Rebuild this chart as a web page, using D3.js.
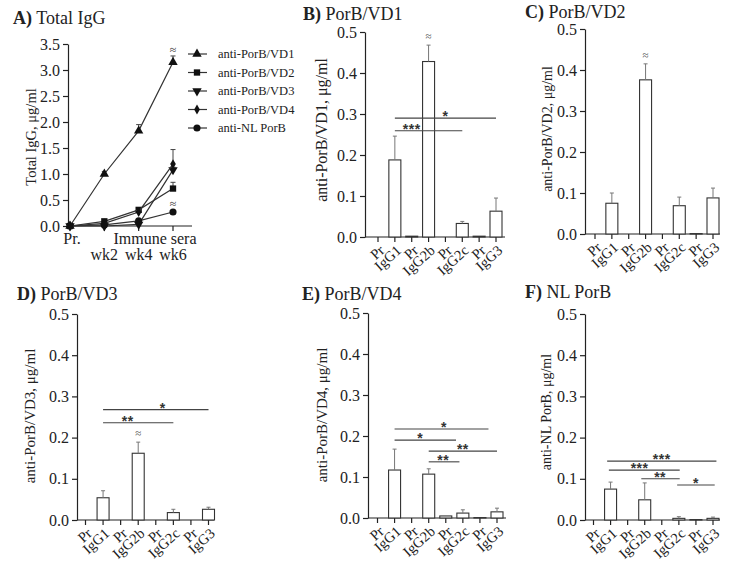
<!DOCTYPE html>
<html><head><meta charset="utf-8">
<script src="https://cdn.jsdelivr.net/npm/d3@7"></script>
<style>
body{margin:0;background:#fff;}
svg{display:block;font-family:"Liberation Serif","Times New Roman",serif;}
</style></head>
<body>
<svg id="chart" width="729" height="570"></svg>
<script>
// ---------- DATA ----------
const aTimes = ["Pr.", "wk2", "wk4", "wk6"];
const aSeriesNames = ["anti-PorB/VD1", "anti-PorB/VD2", "anti-PorB/VD3", "anti-PorB/VD4", "anti-NL PorB"];
const aVD1 = [0, 1.0, 1.83, 3.15];
const aVD1Err = [0, 0.05, 0.12, 0.12];
const aVD2 = [0, 0.09, 0.31, 0.72];
const aVD2Err = [0, 0.02, 0.03, 0.12];
const aVD3 = [0, 0.0, 0.03, 1.08];
const aVD3Err = [0, 0.0, 0.02, 0.05];
const aVD4 = [0, 0.05, 0.27, 1.19];
const aVD4Err = [0, 0.01, 0.03, 0.28];
const aNL = [0, 0.02, 0.10, 0.27];
const aNLErr = [0, 0.01, 0.02, 0.03];
const aYTicks = [0, 0.5, 1.0, 1.5, 2.0, 2.5, 3.0, 3.5];

const barCats = ["Pr", "IgG1", "Pr", "IgG2b", "Pr", "IgG2c", "Pr", "IgG3"];
const barYTicks = [0, 0.1, 0.2, 0.3, 0.4, 0.5];

// significance: [from index, to index, level, label, label index]
const bVals = [0, 0.188, 0.002, 0.428, 0, 0.033, 0.002, 0.063];
const bErr  = [0, 0.058, 0, 0.040, 0, 0.005, 0, 0.032];
const bApprox = [3];
const bSig = [[1, 5, 0.259, "***", 2.0], [1, 7, 0.290, "*", 4.0]];

const cVals = [0, 0.075, 0, 0.376, 0, 0.069, 0.001, 0.088];
const cErr  = [0, 0.025, 0, 0.039, 0, 0.021, 0, 0.024];
const cApprox = [3];
const cSig = [];

const dVals = [0, 0.054, 0, 0.162, 0, 0.018, 0, 0.026];
const dErr  = [0, 0.017, 0, 0.027, 0, 0.008, 0, 0.005];
const dApprox = [3];
const dSig = [[1, 5, 0.236, "**", 2.4], [1, 7, 0.268, "*", 4.4]];

const eVals = [0, 0.117, 0, 0.107, 0.005, 0.012, 0.001, 0.015];
const eErr  = [0, 0.051, 0, 0.013, 0, 0.008, 0, 0.009];
const eApprox = [];
const eSig = [[1, 6.5, 0.217, "*", 3.9], [1, 4.6, 0.190, "*", 2.5], [3, 7, 0.163, "**", 5.0], [3, 4.8, 0.137, "**", 3.85]];

const fVals = [0, 0.075, 0, 0.049, 0, 0.004, 0.001, 0.004];
const fErr  = [0, 0.017, 0, 0.041, 0, 0.004, 0, 0.003];
const fApprox = [];
const fSig = [[0.8, 7.2, 0.143, "***", 4.0], [0.9, 5.05, 0.121, "***", 2.7], [2.8, 5.05, 0.100, "**", 3.9], [4.9, 7.1, 0.085, "*", 6.0]];

// ---------- DRAW ----------
const svg = d3.select("#chart");
const INK = "#222";

function title(x, y, letter, rest) {
  const t = svg.append("text").attr("x", x).attr("y", y).attr("font-size", 18).attr("fill", INK);
  t.append("tspan").attr("font-weight", "bold").text(letter + ")");
  t.append("tspan").text(" " + rest);
}
function yLabel(cx, cy, txt, size) {
  svg.append("text").attr("transform", `translate(${cx},${cy}) rotate(-90)`)
    .attr("text-anchor", "middle").attr("dominant-baseline", "central")
    .attr("font-size", size).attr("fill", INK).text(txt);
}
function styleAxis(g) {
  g.selectAll("path,line").attr("stroke", INK).attr("stroke-width", 1.2);
  g.selectAll("text").attr("font-family", "Liberation Serif, serif").attr("font-size", 16).attr("fill", INK);
}

// ----- Panel A -----
(function () {
  const ax = 68, y0 = 226, yTop = 44, xEnd = 192;
  const y = d3.scaleLinear().domain([0, 3.5]).range([y0, yTop]);
  const x = d3.scalePoint().domain(aTimes).range([70, 173]);
  title(13, 24, "A", "Total IgG");
  yLabel(31, 137, "Total IgG, μg/ml", 14.5);
  const gy = svg.append("g").attr("transform", `translate(${ax},0)`)
    .call(d3.axisLeft(y).tickValues(aYTicks).tickFormat(d3.format(".1f")).tickSize(5).tickSizeOuter(0));
  styleAxis(gy);
  svg.append("line").attr("x1", ax).attr("x2", xEnd).attr("y1", y0).attr("y2", y0).attr("stroke", INK).attr("stroke-width", 1.2);
  aTimes.slice(1).forEach(t => {
    svg.append("line").attr("x1", x(t)).attr("x2", x(t)).attr("y1", y0).attr("y2", y0 + 5).attr("stroke", INK).attr("stroke-width", 1.2);
    svg.append("text").attr("x", x(t)).attr("y", 260).attr("text-anchor", "middle").attr("font-size", 16).attr("fill", INK).text(t);
  });
  svg.append("text").attr("x", x(aTimes[0]) + 2).attr("y", 244).attr("text-anchor", "middle").attr("font-size", 16).attr("fill", INK).text(aTimes[0]);
  svg.append("text").attr("x", 155).attr("y", 244).attr("text-anchor", "middle").attr("font-size", 16).attr("fill", INK).text("Immune sera");

  const series = [
    {name: aSeriesNames[0], v: aVD1, e: aVD1Err, sym: d3.symbolTriangle, size: 38, rot: 0},
    {name: aSeriesNames[1], v: aVD2, e: aVD2Err, sym: d3.symbolSquare, size: 40, rot: 0},
    {name: aSeriesNames[2], v: aVD3, e: aVD3Err, sym: d3.symbolTriangle, size: 38, rot: 180},
    {name: aSeriesNames[3], v: aVD4, e: aVD4Err, sym: d3.symbolDiamond, size: 28, rot: 0},
    {name: aSeriesNames[4], v: aNL, e: aNLErr, sym: d3.symbolCircle, size: 40, rot: 0}
  ];
  const line = d3.line().x((d, i) => x(aTimes[i])).y(d => y(d));
  series.forEach(s => {
    svg.append("path").attr("d", line(s.v)).attr("fill", "none").attr("stroke", "#333").attr("stroke-width", 1.2);
    s.v.forEach((v, i) => {
      if (s.e[i] > 0) {
        const xx = x(aTimes[i]);
        svg.append("line").attr("x1", xx).attr("x2", xx).attr("y1", y(v)).attr("y2", y(v + s.e[i])).attr("stroke", "#444").attr("stroke-width", 1);
        svg.append("line").attr("x1", xx - 2.5).attr("x2", xx + 2.5).attr("y1", y(v + s.e[i])).attr("y2", y(v + s.e[i])).attr("stroke", "#444").attr("stroke-width", 1);
      }
    });
    svg.selectAll(null).data(s.v).enter().append("path")
      .attr("d", d3.symbol().type(s.sym).size(s.size))
      .attr("transform", (d, i) => `translate(${x(aTimes[i])},${y(d)}) rotate(${s.rot})`)
      .attr("fill", "#111");
  });
  [[aVD1, aVD1Err], [aNL, aNLErr]].forEach(([v, e]) => {
    svg.append("text").attr("x", x("wk6")).attr("y", y(v[3] + e[3] + 0.12) + 4).attr("text-anchor", "middle")
      .attr("font-size", 12).attr("fill", "#333").text("≈");
  });
  series.forEach((s, i) => {
    const ly = 54 + i * 18.5;
    svg.append("line").attr("x1", 188).attr("x2", 207).attr("y1", ly).attr("y2", ly).attr("stroke", "#333").attr("stroke-width", 1.2);
    svg.append("path").attr("d", d3.symbol().type(s.sym).size(s.size)).attr("transform", `translate(197,${ly}) rotate(${s.rot})`).attr("fill", "#111");
    svg.append("text").attr("x", 218).attr("y", ly).attr("dominant-baseline", "central").attr("font-size", 12.5).attr("fill", INK).text(s.name);
  });
})();

// ----- Bar panels -----
function barPanel(cfg) {
  const {ax, y0, yTop, t0, t1, xEnd, vals, errs, approx, sig, letter, name, ylab, ylx, yly, ylsize, tx, ty} = cfg;
  const y = d3.scaleLinear().domain([0, 0.5]).range([y0, yTop]);
  const xi = d3.scaleLinear().domain([0, barCats.length - 1]).range([t0, t1]);
  title(tx, ty, letter, name);
  yLabel(ylx, yly, ylab, ylsize);
  const gy = svg.append("g").attr("transform", `translate(${ax},0)`)
    .call(d3.axisLeft(y).tickValues(barYTicks).tickFormat(d3.format(".1f")).tickSize(5).tickSizeOuter(0));
  styleAxis(gy);
  svg.append("line").attr("x1", ax).attr("x2", xEnd).attr("y1", y0).attr("y2", y0).attr("stroke", INK).attr("stroke-width", 1.2);
  const bw = 12;
  barCats.forEach((c, i) => {
    const cx = xi(i);
    svg.append("line").attr("x1", cx).attr("x2", cx).attr("y1", y0).attr("y2", y0 + 5).attr("stroke", INK).attr("stroke-width", 1.2);
    svg.append("text").attr("transform", `translate(${cx + 4},${y0 + 11}) rotate(-42)`)
      .attr("text-anchor", "end").attr("dominant-baseline", "central").attr("font-size", 14.5).attr("fill", INK).text(c);
    const v = vals[i];
    if (v > 0) {
      svg.append("rect").attr("x", cx - bw / 2).attr("y", y(v)).attr("width", bw).attr("height", y0 - y(v))
        .attr("fill", "#fff").attr("stroke", "#333").attr("stroke-width", 1.1);
    }
    if (errs[i] > 0) {
      svg.append("line").attr("x1", cx).attr("x2", cx).attr("y1", y(v)).attr("y2", y(v + errs[i])).attr("stroke", "#777").attr("stroke-width", 1);
      svg.append("line").attr("x1", cx - 2).attr("x2", cx + 2).attr("y1", y(v + errs[i])).attr("y2", y(v + errs[i])).attr("stroke", "#777").attr("stroke-width", 1);
    }
  });
  approx.forEach(i => {
    svg.append("text").attr("x", xi(i)).attr("y", y(vals[i] + errs[i]) - 5).attr("text-anchor", "middle")
      .attr("font-size", 11).attr("fill", "#444").text("≈");
  });
  sig.forEach(([a, b, v, lab, li]) => {
    svg.append("line").attr("x1", xi(a)).attr("x2", xi(b)).attr("y1", y(v)).attr("y2", y(v)).attr("stroke", "#444").attr("stroke-width", 1.1);
    svg.append("text").attr("x", xi(li)).attr("y", y(v) + 3).attr("text-anchor", "middle")
      .attr("font-size", 14).attr("font-weight", "bold").attr("letter-spacing", 0.5)
      .attr("font-family", "Liberation Sans, Arial, sans-serif").attr("fill", "#333").text(lab);
  });
}

barPanel({ax: 365, y0: 237, yTop: 32, t0: 378, t1: 496, xEnd: 505, vals: bVals, errs: bErr, approx: bApprox, sig: bSig,
  letter: "B", name: "PorB/VD1", ylab: "anti-PorB/VD1, μg/ml", ylx: 321, yly: 130, ylsize: 16, tx: 303, ty: 20});
barPanel({ax: 585, y0: 234, yTop: 29, t0: 595, t1: 713, xEnd: 720, vals: cVals, errs: cErr, approx: cApprox, sig: cSig,
  letter: "C", name: "PorB/VD2", ylab: "anti-PorB/VD2, μg/ml", ylx: 547, yly: 129, ylsize: 14, tx: 525, ty: 18});
barPanel({ax: 77, y0: 520, yTop: 314, t0: 85.5, t1: 208.5, xEnd: 214, vals: dVals, errs: dErr, approx: dApprox, sig: dSig,
  letter: "D", name: "PorB/VD3", ylab: "anti-PorB/VD3, μg/ml", ylx: 30, yly: 416, ylsize: 15, tx: 17, ty: 300});
barPanel({ax: 368, y0: 518, yTop: 313, t0: 377.5, t1: 497, xEnd: 506, vals: eVals, errs: eErr, approx: eApprox, sig: eSig,
  letter: "E", name: "PorB/VD4", ylab: "anti-PorB/VD4, μg/ml", ylx: 322, yly: 415, ylsize: 15, tx: 302, ty: 300});
barPanel({ax: 585, y0: 520, yTop: 314, t0: 593.5, t1: 713, xEnd: 720, vals: fVals, errs: fErr, approx: fApprox, sig: fSig,
  letter: "F", name: "NL PorB", ylab: "anti-NL PorB, μg/ml", ylx: 546, yly: 412, ylsize: 14, tx: 525, ty: 298});
</script>
</body></html>
